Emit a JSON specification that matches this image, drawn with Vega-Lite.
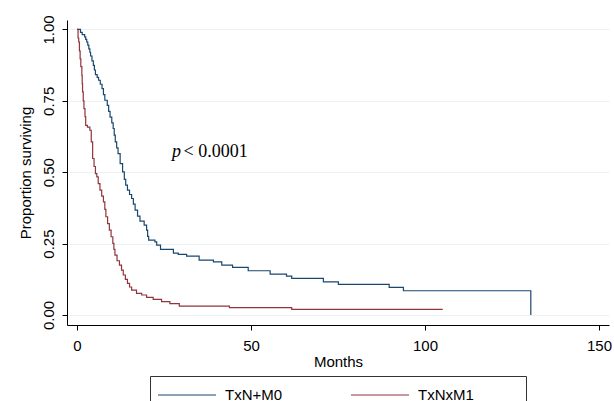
{
  "$schema": "https://vega.github.io/schema/vega-lite/v6.json",
  "width": 542,
  "height": 305,
  "autosize": {"type": "none"},
  "padding": {"left": 67, "top": 20, "right": 5, "bottom": 76},
  "background": "white",
  "config": {
    "view": {"stroke": null},
    "font": "Liberation Sans"
  },
  "datasets": {
    "km": [
      {"group": "TxN+M0", "month": 0, "surv": 1.0},
      {"group": "TxN+M0", "month": 1.0, "surv": 0.99},
      {"group": "TxN+M0", "month": 1.5, "surv": 0.982},
      {"group": "TxN+M0", "month": 2.2, "surv": 0.974},
      {"group": "TxN+M0", "month": 2.5, "surv": 0.965},
      {"group": "TxN+M0", "month": 2.8, "surv": 0.956},
      {"group": "TxN+M0", "month": 3.1, "surv": 0.945},
      {"group": "TxN+M0", "month": 3.4, "surv": 0.932},
      {"group": "TxN+M0", "month": 3.7, "surv": 0.92},
      {"group": "TxN+M0", "month": 3.9, "surv": 0.907},
      {"group": "TxN+M0", "month": 4.3, "surv": 0.89},
      {"group": "TxN+M0", "month": 4.7, "surv": 0.874},
      {"group": "TxN+M0", "month": 5.0, "surv": 0.858},
      {"group": "TxN+M0", "month": 5.3, "surv": 0.842},
      {"group": "TxN+M0", "month": 5.8, "surv": 0.832},
      {"group": "TxN+M0", "month": 6.2, "surv": 0.822},
      {"group": "TxN+M0", "month": 6.7, "surv": 0.808},
      {"group": "TxN+M0", "month": 7.2, "surv": 0.793},
      {"group": "TxN+M0", "month": 7.6, "surv": 0.772},
      {"group": "TxN+M0", "month": 8.0, "surv": 0.752},
      {"group": "TxN+M0", "month": 8.7, "surv": 0.734},
      {"group": "TxN+M0", "month": 9.1, "surv": 0.713},
      {"group": "TxN+M0", "month": 9.5, "surv": 0.693},
      {"group": "TxN+M0", "month": 10.0, "surv": 0.673},
      {"group": "TxN+M0", "month": 10.4, "surv": 0.653},
      {"group": "TxN+M0", "month": 10.7, "surv": 0.63},
      {"group": "TxN+M0", "month": 11.0, "surv": 0.606},
      {"group": "TxN+M0", "month": 11.4, "surv": 0.585},
      {"group": "TxN+M0", "month": 11.8, "surv": 0.565},
      {"group": "TxN+M0", "month": 12.4, "surv": 0.53},
      {"group": "TxN+M0", "month": 13.1, "surv": 0.501},
      {"group": "TxN+M0", "month": 13.6, "surv": 0.475},
      {"group": "TxN+M0", "month": 14.0, "surv": 0.455},
      {"group": "TxN+M0", "month": 14.5, "surv": 0.437},
      {"group": "TxN+M0", "month": 15.1, "surv": 0.422},
      {"group": "TxN+M0", "month": 15.7, "surv": 0.408},
      {"group": "TxN+M0", "month": 16.2, "surv": 0.388},
      {"group": "TxN+M0", "month": 16.7, "surv": 0.367},
      {"group": "TxN+M0", "month": 17.4, "surv": 0.346},
      {"group": "TxN+M0", "month": 18.1, "surv": 0.329},
      {"group": "TxN+M0", "month": 19.3, "surv": 0.315},
      {"group": "TxN+M0", "month": 20.0, "surv": 0.297},
      {"group": "TxN+M0", "month": 20.3, "surv": 0.275},
      {"group": "TxN+M0", "month": 20.6, "surv": 0.262},
      {"group": "TxN+M0", "month": 22.4, "surv": 0.256},
      {"group": "TxN+M0", "month": 22.9, "surv": 0.245},
      {"group": "TxN+M0", "month": 24.0, "surv": 0.23},
      {"group": "TxN+M0", "month": 27.7, "surv": 0.217},
      {"group": "TxN+M0", "month": 29.1, "surv": 0.212},
      {"group": "TxN+M0", "month": 31.5, "surv": 0.206},
      {"group": "TxN+M0", "month": 35.1, "surv": 0.192},
      {"group": "TxN+M0", "month": 39.2, "surv": 0.186},
      {"group": "TxN+M0", "month": 41.6, "surv": 0.175},
      {"group": "TxN+M0", "month": 44.7, "surv": 0.167},
      {"group": "TxN+M0", "month": 49.2, "surv": 0.155},
      {"group": "TxN+M0", "month": 55.5, "surv": 0.143},
      {"group": "TxN+M0", "month": 60.2, "surv": 0.136},
      {"group": "TxN+M0", "month": 61.7, "surv": 0.128},
      {"group": "TxN+M0", "month": 70.8, "surv": 0.116},
      {"group": "TxN+M0", "month": 75.1, "surv": 0.107},
      {"group": "TxN+M0", "month": 89.7, "surv": 0.097},
      {"group": "TxN+M0", "month": 93.8, "surv": 0.085},
      {"group": "TxN+M0", "month": 130.4, "surv": 0.0},
      {"group": "TxNxM1", "month": 0, "surv": 1.0},
      {"group": "TxNxM1", "month": 0.3, "surv": 0.97},
      {"group": "TxNxM1", "month": 0.5, "surv": 0.956},
      {"group": "TxNxM1", "month": 0.7, "surv": 0.925},
      {"group": "TxNxM1", "month": 0.9, "surv": 0.897},
      {"group": "TxNxM1", "month": 1.1, "surv": 0.87},
      {"group": "TxNxM1", "month": 1.4, "surv": 0.839},
      {"group": "TxNxM1", "month": 1.5, "surv": 0.81},
      {"group": "TxNxM1", "month": 1.6, "surv": 0.781},
      {"group": "TxNxM1", "month": 1.8, "surv": 0.75},
      {"group": "TxNxM1", "month": 2.0, "surv": 0.723},
      {"group": "TxNxM1", "month": 2.3, "surv": 0.695},
      {"group": "TxNxM1", "month": 2.5, "surv": 0.664},
      {"group": "TxNxM1", "month": 3.0, "surv": 0.658},
      {"group": "TxNxM1", "month": 3.7, "surv": 0.647},
      {"group": "TxNxM1", "month": 4.1, "surv": 0.606},
      {"group": "TxNxM1", "month": 4.5, "surv": 0.548},
      {"group": "TxNxM1", "month": 4.9, "surv": 0.52},
      {"group": "TxNxM1", "month": 5.3, "surv": 0.495},
      {"group": "TxNxM1", "month": 5.7, "surv": 0.484},
      {"group": "TxNxM1", "month": 6.1, "surv": 0.46},
      {"group": "TxNxM1", "month": 6.6, "surv": 0.437},
      {"group": "TxNxM1", "month": 7.1, "surv": 0.416},
      {"group": "TxNxM1", "month": 7.6, "surv": 0.396},
      {"group": "TxNxM1", "month": 8.0, "surv": 0.37},
      {"group": "TxNxM1", "month": 8.3, "surv": 0.344},
      {"group": "TxNxM1", "month": 8.8, "surv": 0.32},
      {"group": "TxNxM1", "month": 9.3, "surv": 0.297},
      {"group": "TxNxM1", "month": 9.8, "surv": 0.274},
      {"group": "TxNxM1", "month": 10.3, "surv": 0.251},
      {"group": "TxNxM1", "month": 10.6, "surv": 0.23},
      {"group": "TxNxM1", "month": 10.9, "surv": 0.21},
      {"group": "TxNxM1", "month": 11.5, "surv": 0.19},
      {"group": "TxNxM1", "month": 12.2, "surv": 0.175},
      {"group": "TxNxM1", "month": 12.8, "surv": 0.157},
      {"group": "TxNxM1", "month": 13.3, "surv": 0.14},
      {"group": "TxNxM1", "month": 13.9, "surv": 0.125},
      {"group": "TxNxM1", "month": 14.5, "surv": 0.111},
      {"group": "TxNxM1", "month": 15.1, "surv": 0.098},
      {"group": "TxNxM1", "month": 15.7, "surv": 0.087},
      {"group": "TxNxM1", "month": 17.1, "surv": 0.076},
      {"group": "TxNxM1", "month": 18.6, "surv": 0.07},
      {"group": "TxNxM1", "month": 20.0, "surv": 0.062},
      {"group": "TxNxM1", "month": 21.9, "surv": 0.055},
      {"group": "TxNxM1", "month": 24.3, "surv": 0.047},
      {"group": "TxNxM1", "month": 26.7, "surv": 0.04},
      {"group": "TxNxM1", "month": 29.4, "surv": 0.031},
      {"group": "TxNxM1", "month": 43.8, "surv": 0.026},
      {"group": "TxNxM1", "month": 61.7, "surv": 0.02},
      {"group": "TxNxM1", "month": 105.1, "surv": 0.02}
    ],
    "note": [
      {"month": 27.3, "surv": 0.554, "part": "p", "kind": "var"},
      {"month": 30.6, "surv": 0.554, "part": "< 0.0001", "kind": "val"}
    ]
  },
  "layer": [
    {
      "data": {"name": "km"},
      "mark": {"type": "line", "interpolate": "step-after", "strokeWidth": 1.2},
      "encoding": {
        "x": {
          "field": "month", "type": "quantitative",
          "scale": {"domain": [-2.87, 152.87], "nice": false, "zero": false},
          "axis": {
            "title": "Months", "values": [0, 50, 100, 150], "grid": false,
            "domainColor": "#000000", "tickColor": "#000000", "tickSize": 5,
            "labelFontSize": 15, "labelColor": "#000000", "labelPadding": 8,
            "titleFontSize": 15, "titleFontWeight": "normal", "titleColor": "#000000", "titlePadding": 1
          }
        },
        "y": {
          "field": "surv", "type": "quantitative",
          "scale": {"domain": [-0.035, 1.033], "nice": false, "zero": false},
          "axis": {
            "title": "Proportion surviving", "values": [0, 0.25, 0.5, 0.75, 1], "format": ".2f",
            "grid": true, "gridColor": "#eaf2f3", "gridWidth": 1,
            "domainColor": "#000000", "tickColor": "#000000", "tickSize": 5,
            "labelAngle": 270, "labelAlign": "center", "labelBaseline": "middle",
            "labelFontSize": 15, "labelColor": "#000000", "labelPadding": 14,
            "titleFontSize": 15, "titleFontWeight": "normal", "titleColor": "#000000", "titlePadding": 8
          }
        },
        "color": {
          "field": "group", "type": "nominal",
          "scale": {"domain": ["TxN+M0", "TxNxM1"], "range": ["#1a476f", "#90353b"]},
          "legend": {
            "orient": "none", "legendX": 83, "legendY": 356, "direction": "horizontal",
            "title": " ", "titleOrient": "right", "titleFontSize": 1, "titlePadding": 44,
            "strokeColor": "#333333", "fillColor": "#ffffff", "padding": 8,
            "symbolType": "M-2.9,0H2.9", "symbolSize": 400, "symbolStrokeWidth": 1.2,
            "symbolOffset": 18,
            "labelOffset": 27, "labelFontSize": 15, "labelColor": "#000000",
            "columnPadding": 65
          }
        }
      }
    },
    {
      "data": {"name": "note"},
      "transform": [{"filter": "datum.kind === 'var'"}],
      "mark": {"type": "text", "align": "left", "baseline": "alphabetic", "font": "Liberation Serif", "fontSize": 18, "fontStyle": "italic", "color": "#000000"},
      "encoding": {
        "x": {"field": "month", "type": "quantitative"},
        "y": {"field": "surv", "type": "quantitative"},
        "text": {"field": "part"}
      }
    },
    {
      "data": {"name": "note"},
      "transform": [{"filter": "datum.kind === 'val'"}],
      "mark": {"type": "text", "align": "left", "baseline": "alphabetic", "font": "Liberation Serif", "fontSize": 18, "color": "#000000"},
      "encoding": {
        "x": {"field": "month", "type": "quantitative"},
        "y": {"field": "surv", "type": "quantitative"},
        "text": {"field": "part"}
      }
    }
  ]
}
